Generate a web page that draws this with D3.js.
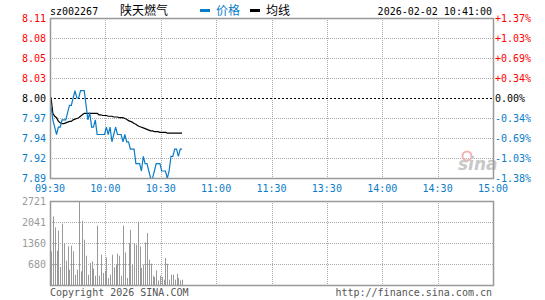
<!doctype html>
<html>
    <head>
        <meta charset="utf-8">
        <script src="https://cdn.jsdelivr.net/npm/d3@7"></script>
        <style>
            html, body {
                margin: 0;
                padding: 0;
                background: #fff;
            }
            #viz {
                position: absolute;
                top: 0px;
                left: 0px;
                width: 545px;
                height: 300px;
            }
            text {
                font-family: "DejaVu Sans Mono", monospace;
                font-size: 10px;
            }
        </style>
    </head>
    <body>
        <div id="viz"></div>
        <script>
            var code = "sz002267";
            var stockName = "陕天燃气";
            var stamp = "2026-02-02 10:41:00";
            var prevClose = 8.00;
            var pctRange = 1.37;

            // left/right axis labels, top to bottom
            var priceLabels = ["8.11", "8.08", "8.05", "8.03", "8.00", "7.97", "7.94", "7.92", "7.89"];
            var pctLabels = ["+1.37%", "+1.03%", "+0.69%", "+0.34%", "0.00%", "-0.34%", "-0.69%", "-1.03%", "-1.38%"];
            var timeLabels = ["09:30", "10:00", "10:30", "11:00", "11:30", "13:30", "14:00", "14:30", "15:00"];
            var volTicks = [2721, 2041, 1360, 680];

            // one value per minute from 09:30
            var prices = [7.99, 7.97, 7.96, 7.95, 7.96, 7.96, 7.97, 7.97, 7.97, 7.98,
                          7.99, 7.99, 8.00, 8.01, 8.00, 8.00, 8.01, 8.01, 8.01, 7.99,
                          7.97, 7.98, 7.96, 7.96, 7.97, 7.95, 7.95, 7.95, 7.95, 7.95,
                          7.96, 7.95, 7.96, 7.94, 7.95, 7.96, 7.95, 7.95, 7.95, 7.94,
                          7.95, 7.94, 7.94, 7.93, 7.93, 7.93, 7.91, 7.91, 7.91, 7.90,
                          7.92, 7.91, 7.91, 7.90, 7.89, 7.89, 7.90, 7.91, 7.91, 7.91,
                          7.90, 7.90, 7.90, 7.89, 7.90, 7.92, 7.92, 7.93, 7.93, 7.92,
                          7.93, 7.93];
            var avgPrices = [8.001, 7.979, 7.975, 7.973, 7.968, 7.966, 7.965, 7.965, 7.966, 7.967,
                             7.968, 7.968, 7.970, 7.971, 7.972, 7.973, 7.975, 7.977, 7.979, 7.979,
                             7.979, 7.979, 7.979, 7.979, 7.979, 7.979, 7.977, 7.977, 7.976, 7.976,
                             7.976, 7.975, 7.975, 7.975, 7.974, 7.974, 7.974, 7.973, 7.973, 7.973,
                             7.972, 7.971, 7.969, 7.968, 7.967, 7.965, 7.964, 7.962, 7.961, 7.960,
                             7.959, 7.958, 7.957, 7.956, 7.955, 7.955, 7.954, 7.954, 7.954, 7.953,
                             7.953, 7.953, 7.953, 7.952, 7.952, 7.952, 7.952, 7.952, 7.952, 7.952,
                             7.952, 7.952];
            var volumes = [1089, 2222, 1866, 1111, 1759, 583, 1986, 1360, 787, 1250,
                           496, 1273, 1089, 334, 496, 2721, 441, 2083, 1467, 949,
                           334, 713, 765, 528, 301, 1921, 301, 982, 389, 463,
                           894, 227, 334, 982, 570, 658, 1014, 949, 301, 1921,
                           1056, 227, 1360, 1791, 658, 1360, 1305, 2050, 1250, 551,
                           658, 1380, 1684, 820, 690, 301, 259, 473, 149, 301,
                           259, 172, 875, 690, 172, 334, 334, 172, 366, 227,
                           149, 172];

            var red = "#ff0000";
            var blue = "#0a7cc8";
            var gray = "#999999";

            var left = 50, right = 493;
            var pTop = 18, pBottom = 178;
            var vTop = 201, vBottom = 285;

            var svg = d3.select("#viz").append("svg:svg")
                .attr("width", 545)
                .attr("height", 300);

            var x = d3.scaleLinear().domain([0, 240]).range([left, right]);
            var y = d3.scaleLinear()
                .domain([prevClose * (1 - pctRange / 100), prevClose * (1 + pctRange / 100)])
                .range([pBottom, pTop]);
            var yv = d3.scaleLinear().domain([0, 2721]).range([vBottom, vTop]);

            var priceLevels = d3.range(9).map(function (k) {
                return prevClose * (1 + (4 - k) * pctRange / 400);
            });
            var crisp = function (v) { return Math.round(v) + 0.5; };

            // grid - price panel
            var grid = svg.append("g").attr("stroke", "#aaaaaa").attr("stroke-dasharray", "1,1");
            priceLevels.forEach(function (p, k) {
                if (k == 0 || k == 8 || k == 4) return;
                grid.append("line")
                    .attr("x1", left).attr("x2", right)
                    .attr("y1", crisp(y(p))).attr("y2", crisp(y(p)));
            });
            d3.range(1, 8).forEach(function (k) {
                grid.append("line")
                    .attr("x1", crisp(x(k * 30))).attr("x2", crisp(x(k * 30)))
                    .attr("y1", pTop).attr("y2", pBottom);
                grid.append("line")
                    .attr("x1", crisp(x(k * 30))).attr("x2", crisp(x(k * 30)))
                    .attr("y1", vTop).attr("y2", vBottom);
            });
            volTicks.slice(1).forEach(function (v) {
                grid.append("line")
                    .attr("x1", left).attr("x2", right)
                    .attr("y1", crisp(yv(v))).attr("y2", crisp(yv(v)));
            });

            // previous close
            svg.append("line")
                .attr("x1", left).attr("x2", right)
                .attr("y1", crisp(y(prevClose))).attr("y2", crisp(y(prevClose)))
                .attr("stroke", "#000")
                .attr("stroke-dasharray", "2,2");

            // sina watermark
            var logo = svg.append("g").attr("transform", "translate(458,170)");
            logo.append("circle").attr("cx", 9).attr("cy", -14).attr("r", 4.5)
                .attr("fill", "none").attr("stroke", "#f3b3b3").attr("stroke-width", 2);
            logo.append("text").attr("x", 0).attr("y", 0)
                .style("font-family", "Verdana, 'DejaVu Sans', sans-serif")
                .style("font-size", "17px").style("font-weight", "bold").style("font-style", "italic")
                .attr("fill", "#c8c8c8").text("sina");

            // volume bars
            svg.append("g").selectAll("line")
                .data(volumes)
                .enter()
                .append("line")
                    .attr("x1", function (d, i) { return crisp(x(i)) + 1; })
                    .attr("x2", function (d, i) { return crisp(x(i)) + 1; })
                    .attr("y1", vBottom)
                    .attr("y2", function (d) { return yv(d); })
                    .attr("stroke", gray)
                    .attr("stroke-width", 1);

            // lines
            var line = d3.line()
                .x(function (d, i) { return x(i) + 1; })
                .y(function (d) { return y(d); });
            svg.append("path")
                .datum(avgPrices)
                .attr("d", line)
                .attr("fill", "none")
                .attr("stroke", "#000")
                .attr("stroke-width", 1.2);
            svg.append("path")
                .datum(prices)
                .attr("d", line)
                .attr("fill", "none")
                .attr("stroke", blue)
                .attr("stroke-width", 1.2);

            // frames
            svg.append("rect")
                .attr("x", left + 0.5).attr("y", pTop + 0.5)
                .attr("width", right - left).attr("height", pBottom - pTop)
                .attr("fill", "none").attr("stroke", gray).attr("stroke-width", 1.5);
            svg.append("rect")
                .attr("x", left + 0.5).attr("y", vTop + 0.5)
                .attr("width", right - left).attr("height", vBottom - vTop)
                .attr("fill", "none").attr("stroke", gray).attr("stroke-width", 1.5);

            var colorFor = function (k) {
                return k < 4 ? red : (k == 4 ? "#000" : blue);
            };

            // price and percent labels
            svg.append("g").selectAll("text")
                .data(priceLabels)
                .enter()
                .append("text")
                    .attr("x", 46)
                    .attr("y", function (d, i) { return y(priceLevels[i]) + 4; })
                    .attr("text-anchor", "end")
                    .attr("fill", function (d, i) { return colorFor(i); })
                    .text(function (d) { return d; });
            svg.append("g").selectAll("text")
                .data(pctLabels)
                .enter()
                .append("text")
                    .attr("x", 495)
                    .attr("y", function (d, i) { return y(priceLevels[i]) + 4; })
                    .attr("fill", function (d, i) { return colorFor(i); })
                    .text(function (d) { return d; });

            // time labels
            svg.append("g").selectAll("text")
                .data(timeLabels)
                .enter()
                .append("text")
                    .attr("x", function (d, i) { return x(i * 30); })
                    .attr("y", 192)
                    .attr("text-anchor", "middle")
                    .attr("fill", blue)
                    .text(function (d) { return d; });

            // volume labels
            svg.append("g").selectAll("text")
                .data(volTicks)
                .enter()
                .append("text")
                    .attr("x", 46)
                    .attr("y", function (d) { return yv(d) + 4; })
                    .attr("text-anchor", "end")
                    .attr("fill", gray)
                    .text(function (d) { return d; });

            // header
            svg.append("text").attr("x", 50).attr("y", 15).attr("fill", "#000").text(code);
            svg.append("text").attr("x", 120).attr("y", 15).attr("fill", "#000")
                .style("font-family", "'Noto Sans CJK SC', sans-serif").style("font-size", "12px")
                .text(stockName);
            svg.append("rect").attr("x", 200).attr("y", 9).attr("width", 10).attr("height", 3).attr("fill", blue);
            svg.append("text").attr("x", 216).attr("y", 15).attr("fill", blue)
                .style("font-family", "'Noto Sans CJK SC', sans-serif").style("font-size", "12px")
                .text("价格");
            svg.append("rect").attr("x", 250).attr("y", 9).attr("width", 10).attr("height", 3).attr("fill", "#000");
            svg.append("text").attr("x", 266).attr("y", 15).attr("fill", "#000")
                .style("font-family", "'Noto Sans CJK SC', sans-serif").style("font-size", "12px")
                .text("均线");
            svg.append("text").attr("x", 492).attr("y", 15).attr("text-anchor", "end").attr("fill", "#000").text(stamp);

            // footer
            svg.append("text").attr("x", 50).attr("y", 296).attr("fill", "#555").text("Copyright 2026 SINA.COM");
            svg.append("text").attr("x", 492).attr("y", 296).attr("text-anchor", "end").attr("fill", "#555").text("http://finance.sina.com.cn");
        </script>
    </body>
</html>
